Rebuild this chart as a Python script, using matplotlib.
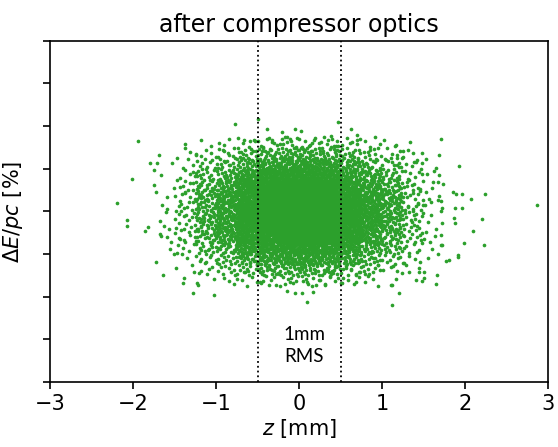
import numpy as np
import matplotlib
matplotlib.use("Agg")
import matplotlib.pyplot as plt

# density of the particle cloud:
# number of particles per 0.25 mm x 0.25 % cell
x_edges = [-1.75, -1.5, -1.25, -1.0, -0.75, -0.5, -0.25, 0.0,
           0.25, 0.5, 0.75, 1.0, 1.25, 1.5, 1.75]
y_edges = [1.75, 1.5, 1.25, 1.0, 0.75, 0.5, 0.25, 0.0,
           -0.25, -0.5, -0.75, -1.0, -1.25, -1.5, -1.75]
counts = [
    [0, 1, 2, 3, 5, 8, 9, 9, 8, 6, 4, 2, 1, 1],
    [1, 2, 5, 8, 13, 18, 20, 20, 18, 13, 9, 5, 3, 1],
    [1, 3, 8, 13, 22, 34, 39, 39, 34, 23, 15, 9, 4, 2],
    [1, 5, 13, 18, 36, 55, 62, 62, 55, 38, 22, 14, 6, 2],
    [2, 7, 17, 29, 54, 80, 90, 90, 80, 55, 33, 20, 9, 3],
    [2, 8, 21, 36, 65, 97, 108, 108, 97, 66, 40, 24, 10, 3],
    [2, 8, 22, 37, 72, 104, 118, 118, 104, 72, 44, 25, 11, 3],
    [2, 8, 22, 37, 72, 104, 118, 118, 104, 72, 44, 25, 11, 3],
    [2, 8, 21, 36, 65, 97, 108, 108, 97, 66, 40, 24, 10, 3],
    [2, 7, 17, 29, 54, 80, 90, 90, 80, 55, 33, 20, 9, 3],
    [1, 5, 13, 18, 36, 55, 62, 62, 55, 38, 22, 14, 6, 2],
    [1, 3, 8, 13, 22, 34, 39, 39, 34, 23, 15, 9, 4, 2],
    [1, 2, 5, 8, 13, 18, 20, 20, 18, 13, 9, 5, 3, 1],
    [0, 1, 2, 3, 5, 8, 9, 9, 8, 6, 4, 2, 1, 1],
]

# isolated particles outside the core
halo_z = [-2.20, -2.08, -2.08, -2.01, -1.94, -1.86, -1.82, -1.80, -1.75, -1.68,
          -1.59, -1.53, -1.51, -1.47, -1.39, -1.28, -1.24, -1.23, -1.03, -0.77,
          -0.66, -0.59, -0.49, -0.39, -0.33, -0.21, -0.15, -0.11, -0.05, 0.02,
          0.02, 0.39, 0.44, 0.47, 0.63, 0.70, 0.70, 1.04, 1.11, 1.17, 1.18,
          1.23, 1.38, 1.41, 1.45, 1.48, 1.54, 1.62, 1.68, 1.71, 1.85, 1.88,
          1.89, 1.93, 1.96, 1.96, 2.07, 2.24, 2.87,
          -0.14, 0.03, 0.17, -0.05, 0.09, 1.12, 1.21, 1.12, 1.41, 1.45, 1.51,
          1.65, 1.77, 1.81, 1.91, 1.92, 1.99, 2.10, 2.21, 2.23, 1.71, 1.88,
          1.87, 1.71]
halo_dE = [0.20, -0.20, -0.33, 0.75, 1.65, -0.45, -0.37, 1.14, 0.96, -0.53,
           -0.59, 1.14, -1.00, 1.24, -1.55, -1.90, 1.33, -1.68, -1.95, 2.04,
           1.67, 1.65, 2.16, 1.92, 1.67, 1.85, 1.75, 1.69, 1.92, 1.88,
           1.49, 1.77, 1.53, 2.10, 1.92, 1.79, 1.67, 1.22, 1.24, 1.55, 1.32,
           1.04, 1.16, 1.16, 0.93, 1.38, 0.88, 0.68, 0.26, 0.24, 0.46, 0.07,
           0.40, 1.07, 0.41, 0.07, 0.29, 0.41, 0.15,
           -1.86, -1.92, -1.88, -1.90, -2.13, -1.72, -1.92, -2.20, -1.61, -1.43,
           -1.43, -1.69, -1.16, -1.14, -1.02, -1.07, -0.75, -0.47, -0.18, -0.79,
           -0.78, -0.26, -0.15, -0.56]

ytick_pos = [-4, -3, -2, -1, 0, 1, 2, 3, 4]
xtick_pos = [-3, -2, -1, 0, 1, 2, 3]
rms_lines = [-0.5, 0.5]


def halton(i, base):
    f, r = 1.0, 0.0
    while i > 0:
        f /= base
        r += f * (i % base)
        i //= base
    return r


# spread each cell's particles evenly over the cell
z, dE = [], []
k = 1
for row, n_row in enumerate(counts):
    y0, y1 = y_edges[row + 1], y_edges[row]
    for col, n in enumerate(n_row):
        x0, x1 = x_edges[col], x_edges[col + 1]
        for _ in range(n):
            z.append(x0 + (x1 - x0) * halton(k, 2))
            dE.append(y0 + (y1 - y0) * halton(k, 3))
            k += 1
z = np.array(z + halo_z)
dE = np.array(dE + halo_dE)

fig = plt.figure(figsize=(5.58, 4.47), dpi=100)
ax = fig.add_axes([0.09, 0.145, 0.892, 0.764])

ax.scatter(z, dE, s=7, color="tab:green", linewidths=0)
for x in rms_lines:
    ax.axvline(x, color="black", linestyle=":", linewidth=1.3)

ax.text(0.07, -3.15, "1mm\nRMS", ha="center", va="center",
        multialignment="left", fontsize=13.5, linespacing=1.35,
        family=["Lato", "DejaVu Sans"])

ax.set_xlim(-3, 3)
ax.set_ylim(-4, 4)
ax.set_xticks(xtick_pos)
ax.set_yticks(ytick_pos)
ax.set_yticklabels([])
ax.tick_params(labelsize=15, length=5, width=1.2)
for sp in ax.spines.values():
    sp.set_linewidth(1.2)

ax.set_xlabel("$z$ [mm]", fontsize=15, labelpad=2)
ax.set_ylabel(r"$\Delta E/pc$ [%]", fontsize=15, labelpad=10)
ax.set_title("after compressor optics", fontsize=17, pad=6)

fig.savefig("out.png", dpi=100)
